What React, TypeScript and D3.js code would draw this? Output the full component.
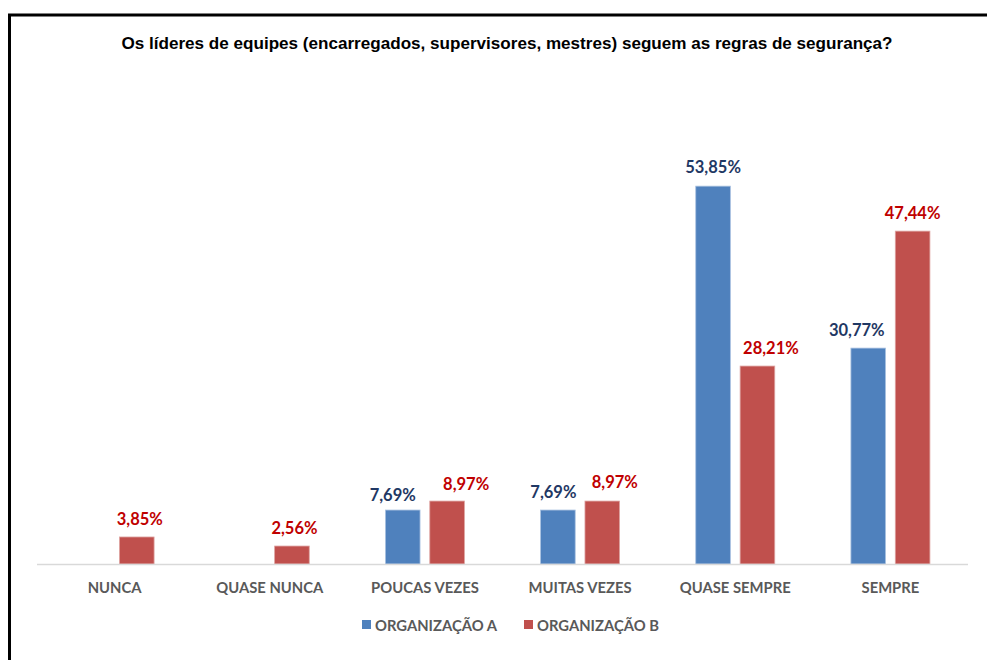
import React, { useEffect, useRef } from 'react';
import * as d3 from 'd3';

const categories = ['NUNCA', 'QUASE NUNCA', 'POUCAS VEZES', 'MUITAS VEZES', 'QUASE SEMPRE', 'SEMPRE'];
const seriesNames = ['ORGANIZAÇÃO A', 'ORGANIZAÇÃO B'];
const orgA = [0, 0, 7.69, 7.69, 53.85, 30.77];
const orgB = [3.85, 2.56, 8.97, 8.97, 28.21, 47.44];
const title = 'Os líderes de equipes (encarregados, supervisores, mestres) seguem as regras de segurança?';

// manual nudges of the data labels, as in the original chart
const nudgeA = [0, 0, -10, -4.5, 0, -11.5];
const nudgeB = [3, 2.5, 19, 12.5, 13.5, 0];
const liftA = [12, 12, 9, 12, 13, 12];
const liftB = [12, 12, 11, 13, 12.5, 12];

const barColors = ['#4F81BD', '#C0504D'];
const labelColors = ['#1F3864', '#C00000'];

function App() {
  const ref = useRef<SVGSVGElement>(null);

  useEffect(() => {
    const W = 987;
    const H = 660;
    const svg = d3.select(ref.current).attr('width', W).attr('height', H);
    svg.selectAll('*').remove();

    // frame (only top and left edges are visible in the picture)
    svg.append('rect')
      .attr('x', 9.5).attr('y', 15)
      .attr('width', W + 20).attr('height', H + 20)
      .attr('fill', 'white').attr('stroke', 'black').attr('stroke-width', 3);

    svg.append('text')
      .attr('x', 507).attr('y', 49)
      .attr('text-anchor', 'middle')
      .attr('textLength', 771).attr('lengthAdjust', 'spacingAndGlyphs')
      .style('font-family', '"Liberation Sans Narrow", "Arial Narrow", "Liberation Sans", Arial, sans-serif')
      .style('font-weight', 'bold').style('font-size', '17px')
      .attr('fill', '#000')
      .text(title);

    const x0 = d3.scaleBand().domain(categories).range([37, 968]).paddingInner(0).paddingOuter(0);
    const x1 = d3.scaleBand().domain(seriesNames).range([0, 79]).paddingInner(0.22);
    const y = d3.scaleLinear().domain([0, 60]).range([564, 143]);

    const font = 'Lato, Calibri, "Open Sans", sans-serif';

    const data = categories.map((c, i) => ({
      cat: c,
      values: [
        { v: orgA[i], j: 0, dx: nudgeA[i], lift: liftA[i] },
        { v: orgB[i], j: 1, dx: nudgeB[i], lift: liftB[i] },
      ],
    }));

    const groups = svg.selectAll('g.grp').data(data).enter().append('g')
      .attr('class', 'grp')
      .attr('transform', d => `translate(${(x0(d.cat) as number) + x0.bandwidth() / 2 - 39.5},0)`);

    groups.selectAll('rect').data(d => d.values.filter(e => e.v > 0))
      .enter().append('rect')
      .attr('x', e => x1(seriesNames[e.j]) as number)
      .attr('y', e => y(e.v))
      .attr('width', x1.bandwidth())
      .attr('height', e => y(0) - y(e.v))
      .attr('fill', e => barColors[e.j])
      .attr('stroke', e => (e.j === 0 ? '#a9c1e0' : '#dea3a1'))
      .attr('stroke-width', 0.8);

    groups.selectAll('text.lbl').data(d => d.values.filter(e => e.v > 0))
      .enter().append('text')
      .attr('class', 'lbl')
      .attr('x', e => (x1(seriesNames[e.j]) as number) + x1.bandwidth() / 2 + e.dx)
      .attr('y', e => y(e.v) - e.lift)
      .attr('text-anchor', 'middle')
      .style('font-family', font).style('font-weight', 'bold').style('font-size', '16.5px')
      .attr('fill', e => labelColors[e.j])
      .text(e => e.v.toFixed(2).replace('.', ',') + '%');

    // axis line
    svg.append('line')
      .attr('x1', 37).attr('x2', 968)
      .attr('y1', y(0) + 0.5).attr('y2', y(0) + 0.5)
      .attr('stroke', '#d9d9d9').attr('stroke-width', 1.5);

    svg.selectAll('text.cat').data(categories).enter().append('text')
      .attr('class', 'cat')
      .attr('x', d => (x0(d) as number) + x0.bandwidth() / 2)
      .attr('y', 593)
      .attr('text-anchor', 'middle')
      .style('font-family', font).style('font-weight', 'bold').style('font-size', '14.8px')
      .attr('fill', '#595959')
      .text(d => d);

    // legend
    const legendX = [362, 524];
    seriesNames.forEach((s, j) => {
      svg.append('rect')
        .attr('x', legendX[j]).attr('y', 620)
        .attr('width', 9).attr('height', 9)
        .attr('fill', barColors[j]);
      svg.append('text')
        .attr('x', legendX[j] + 13).attr('y', 630.5)
        .style('font-family', font).style('font-weight', 'bold').style('font-size', '14.8px')
        .attr('fill', '#595959')
        .text(s);
    });
  }, []);

  return (
    <div>
      <svg ref={ref} style={{ position: 'absolute', left: 0, top: 0, display: 'block' }}></svg>
    </div>
  );
}

export default App;
